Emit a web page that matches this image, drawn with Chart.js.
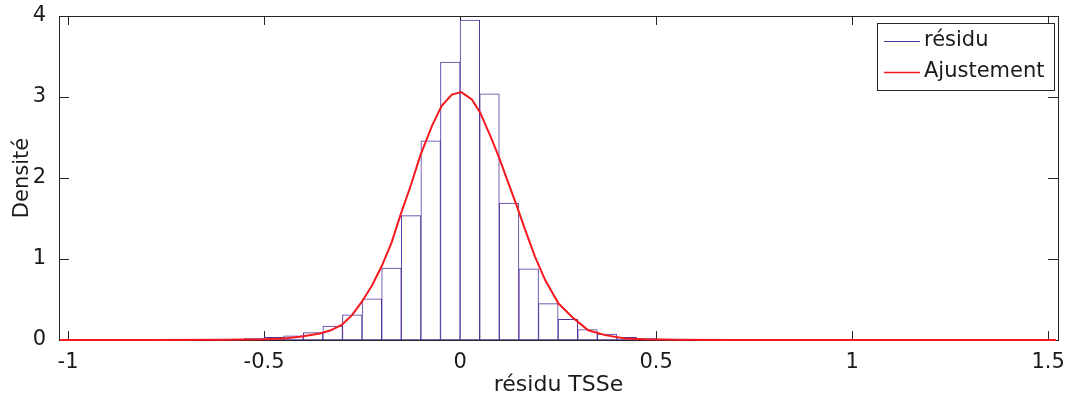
<!DOCTYPE html>
<html>
<head>
<meta charset="utf-8">
<script src="https://cdn.jsdelivr.net/npm/chart.js@4.4.1/dist/chart.umd.min.js"></script>
<style>
html, body { margin: 0; padding: 0; background: #fff; }
#wrap { width: 1068px; height: 399px; }
</style>
</head>
<body>
<div id="wrap"><canvas id="chartHist" width="1068" height="399"></canvas></div>
<script>
/* histogramme des résidus TSSe + ajustement */

const binCenters = [-0.975, -0.925, -0.875, -0.825, -0.775, -0.725, -0.675, -0.625, -0.575, -0.525,
  -0.475, -0.425, -0.375, -0.325, -0.275, -0.225, -0.175, -0.125, -0.075, -0.025,
  0.025, 0.075, 0.125, 0.175, 0.225, 0.275, 0.325, 0.375, 0.425, 0.475,
  0.525, 0.575, 0.625, 0.675, 0.725, 0.775, 0.825, 0.875, 0.925, 0.975, 1.025, 1.075];
const binDensity = [0.004, 0.002, 0.002, 0.003, 0.002, 0.003, 0.004, 0.005, 0.008, 0.02,
  0.033, 0.053, 0.092, 0.172, 0.31, 0.508, 0.888, 1.536, 2.46, 3.43,
  3.95, 3.04, 1.69, 0.88, 0.45, 0.256, 0.13, 0.074, 0.033, 0.02,
  0.01, 0.006, 0.004, 0.003, 0.003, 0.002, 0.002, 0.002, 0.002, 0.002, 0.002, 0.002];

const fitX = [-1.02, -0.8, -0.6, -0.5, -0.45, -0.408, -0.357, -0.33, -0.302, -0.275, -0.251, -0.225,
  -0.2, -0.175, -0.153, -0.125, -0.102, -0.072, -0.047, -0.021, 0.003, 0.03, 0.051, 0.077,
  0.098, 0.123, 0.145, 0.166, 0.191, 0.217, 0.251, 0.289, 0.327, 0.37, 0.421, 0.47, 0.55, 0.7, 1.52];
const fitY = [0, 0, 0.003, 0.01, 0.02, 0.04, 0.08, 0.12, 0.186, 0.31, 0.47, 0.67,
  0.91, 1.2, 1.53, 1.92, 2.27, 2.64, 2.89, 3.03, 3.06, 2.97, 2.81, 2.52,
  2.27, 1.94, 1.65, 1.36, 1.03, 0.74, 0.45, 0.27, 0.12, 0.06, 0.02, 0.008, 0.002, 0, 0];

const xTicks = [-1, -0.5, 0, 0.5, 1, 1.5];
const xTickLabels = ['-1', '-0.5', '0', '0.5', '1', '1.5'];
const yTicks = [0, 1, 2, 3, 4];
const yTickLabels = ['0', '1', '2', '3', '4'];

const HIST_COLOR = '#52349e';
const FIT_COLOR = '#f4191e';
const AXIS_COLOR = '#262626';
const FONT = '"DejaVu Sans", "Liberation Sans", sans-serif';

// cadre + graduations intérieures, style MATLAB
const boxPlugin = {
  id: 'boxTicks',
  beforeDatasetsDraw(chart) {
    const { ctx, chartArea: a, scales: { x, y } } = chart;
    ctx.save();
    ctx.strokeStyle = AXIS_COLOR;
    ctx.lineWidth = 1;
    ctx.strokeRect(a.left + 0.5, a.top + 0.5, a.right - a.left, a.bottom - a.top);
    ctx.beginPath();
    xTicks.forEach(v => {
      const px = Math.round(x.getPixelForValue(v)) + 0.5;
      ctx.moveTo(px, a.bottom); ctx.lineTo(px, a.bottom - 9);
      ctx.moveTo(px, a.top); ctx.lineTo(px, a.top + 9);
    });
    yTicks.forEach(v => {
      const py = Math.round(y.getPixelForValue(v)) + 0.5;
      ctx.moveTo(a.left, py); ctx.lineTo(a.left + 10, py);
      ctx.moveTo(a.right, py); ctx.lineTo(a.right - 10, py);
    });
    ctx.stroke();
    ctx.restore();
  },
  afterDraw(chart) {
    // légende en haut à droite
    const { ctx, chartArea: a } = chart;
    const ds = chart.data.datasets;
    const items = [ds[1], ds[0]];
    const bx = a.right - 181, by = a.top + 7, bw = 177, bh = 67;
    ctx.save();
    ctx.fillStyle = '#fff';
    ctx.fillRect(bx, by, bw, bh);
    ctx.strokeStyle = AXIS_COLOR;
    ctx.lineWidth = 1;
    ctx.strokeRect(bx + 0.5, by + 0.5, bw, bh);
    ctx.font = '21px ' + FONT;
    ctx.textBaseline = 'middle';
    ctx.textAlign = 'left';
    items.forEach((d, i) => {
      const cy = by + 18 + i * 31;
      ctx.strokeStyle = d.legendColor;
      ctx.lineWidth = d.legendWidth;
      ctx.beginPath();
      ctx.moveTo(bx + 7, cy + 0.5);
      ctx.lineTo(bx + 43, cy + 0.5);
      ctx.stroke();
      ctx.fillStyle = '#1a1a1a';
      ctx.fillText(d.label, bx + 47, cy);
    });
    ctx.restore();
  }
};

new Chart(document.getElementById('chartHist'), {
  type: 'bar',
  data: {
    datasets: [
      {
        type: 'line',
        label: 'Ajustement',
        data: fitX.map((v, i) => ({ x: v, y: fitY[i] })),
        borderColor: FIT_COLOR,
        borderWidth: 2,
        pointRadius: 0,
        tension: 0,
        fill: false,
        clip: 3,
        order: 0,
        legendColor: FIT_COLOR,
        legendWidth: 1.5
      },
      {
        type: 'bar',
        label: 'résidu',
        data: binCenters.map((v, i) => ({ x: v, y: binDensity[i] })),
        backgroundColor: '#ffffff',
        borderColor: HIST_COLOR,
        borderWidth: 1,
        borderSkipped: false,
        barPercentage: 1,
        categoryPercentage: 1,
        order: 1,
        legendColor: HIST_COLOR,
        legendWidth: 1.2
      }
    ]
  },
  options: {
    responsive: false,
    devicePixelRatio: 1,
    animation: false,
    layout: { padding: { left: 0, right: 10, top: 16, bottom: 0 } },
    plugins: { legend: { display: false }, tooltip: { enabled: false } },
    scales: {
      x: {
        type: 'linear',
        min: -1.023,
        max: 1.525,
        offset: false,
        grid: { display: false },
        border: { display: false },
        afterBuildTicks: s => { s.ticks = xTicks.map(v => ({ value: v })); },
        afterFit: s => { s.height = 59; s.paddingLeft = 0; s.paddingRight = 0; },
        ticks: {
          autoSkip: false,
          maxRotation: 0,
          padding: 2,
          color: '#1a1a1a',
          font: { family: FONT, size: 21 },
          callback: (v, i) => xTickLabels[i]
        },
        title: {
          display: true,
          text: 'résidu TSSe',
          color: '#1a1a1a',
          font: { family: FONT, size: 22 },
          padding: { top: 0, bottom: 1 }
        }
      },
      y: {
        min: 0,
        max: 4,
        grid: { display: false },
        border: { display: false },
        afterBuildTicks: s => { s.ticks = yTicks.map(v => ({ value: v })); },
        afterFit: s => { s.width = 59; s.paddingTop = 0; s.paddingBottom = 0; },
        ticks: {
          autoSkip: false,
          padding: 5,
          color: '#1a1a1a',
          font: { family: FONT, size: 21 },
          callback: (v, i) => yTickLabels[i]
        },
        title: {
          display: true,
          text: 'Densité',
          color: '#1a1a1a',
          font: { family: FONT, size: 21 },
          padding: { top: 10, bottom: 0 }
        }
      }
    }
  },
  plugins: [boxPlugin]
});
</script>
</body>
</html>
